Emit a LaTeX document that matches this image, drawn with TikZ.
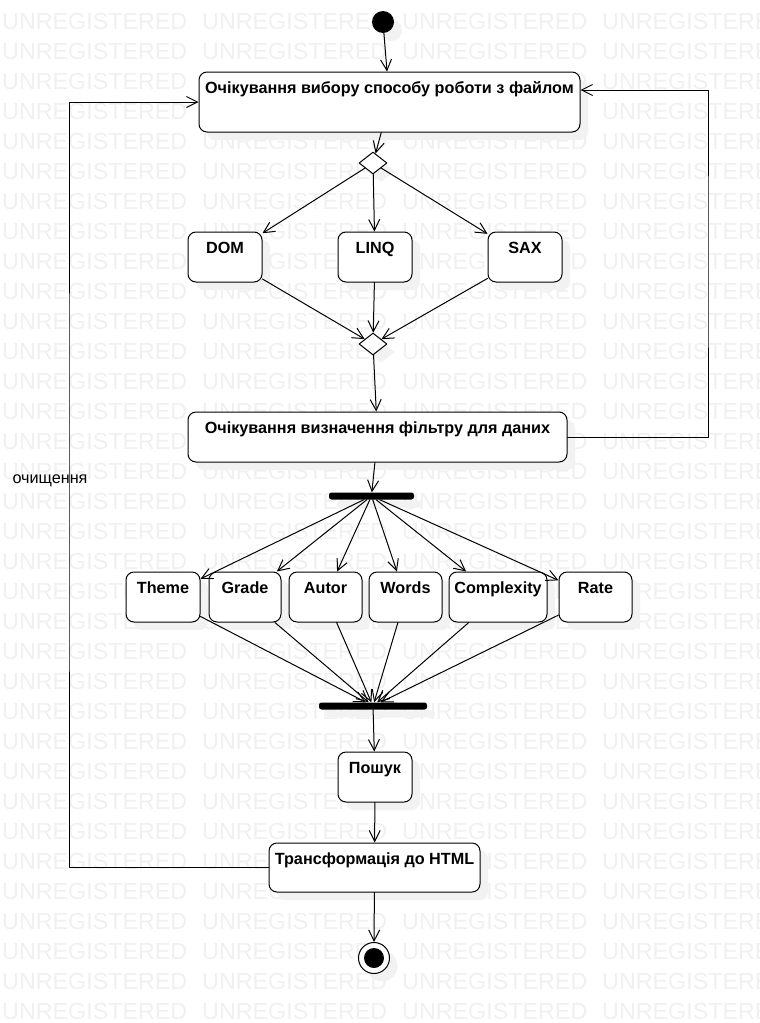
\documentclass[tikz,border=0pt]{standalone}
\usepackage{fontspec}
\setmainfont{Liberation Sans}
\usetikzlibrary{arrows.meta,shapes.geometric,shadows}

\tikzset{
  shade/.style={drop shadow={shadow xshift=8pt, shadow yshift=-8pt, fill=black!5, opacity=1}},
  actbox/.style={draw, fill=white, rounded corners=8pt, line width=1pt,
    inner xsep=3pt, inner ysep=0pt, text height=21.8pt, text depth=28.2pt,
    font=\fontsize{16.2}{19}\selectfont\bfseries, shade},
  branch/.style={diamond, draw, fill=white, line width=1pt,
    minimum width=28pt, minimum height=22pt, inner sep=0pt, shade},
  syncbar/.style={rectangle, fill=black, rounded corners=2.5pt,
    minimum width=#1, minimum height=7pt, inner sep=0pt, shade},
  startdot/.style={circle, fill=black, minimum size=22pt, inner sep=0pt, shade},
  enddot/.style={circle, draw, fill=white, line width=1pt, minimum size=31pt,
    inner sep=0pt, shade,
    path picture={\fill[black] (path picture bounding box.center) circle (10pt);}},
  wmark/.style={anchor=west, inner sep=0pt, text=black!6,
    font=\fontsize{23.3}{24}\selectfont},
  arr/.style={line width=1pt, -{Straight Barb[length=11pt,width=11pt]}}
}

\begin{document}
\begin{tikzpicture}[
    x=1pt, y=-1pt,
    line cap=round,
    line join=round,
    every node/.style={
      font=\fontsize{16.2}{19}\selectfont,
      inner sep=1pt
    }
]
\useasboundingbox (0,0) rectangle (760,1023);

% watermark
\begin{scope}
  \clip (0,0) rectangle (760,1023);
  \foreach \r in {0,...,33} {
    \foreach \c in {0,...,3} {
      \node[wmark] at (2+200*\c, 21+30*\r) {UNREGISTERED};
    }
  }
\end{scope}

% states
\node[startdot] (init) at (383,22) {};
\node[actbox, minimum width=381pt, text depth=38.2pt] (waitmode) at (389.5,102)
  {Очікування вибору способу роботи з файлом};
\node[branch] (choice) at (373,163) {};

\node[actbox, minimum width=74pt] (dom) at (225,257) {DOM};
\node[actbox, minimum width=74pt] (linq) at (375,257) {LINQ};
\node[actbox, minimum width=74pt] (sax) at (525,257) {SAX};

\node[branch] (merge) at (373,344) {};
\node[actbox, minimum width=379pt] (waitfilter) at (377.5,437)
  {Очікування визначення фільтру для даних};

\node[syncbar=85pt] (fork) at (371.5,496) {};

\foreach \n/\x/\w/\t in {theme/163/74/Theme, grade/245/72/Grade,
    autor/325.5/73/Autor, words/405.5/73/Words,
    complexity/498/98/Complexity, rate/595.5/73/Rate} {
  \node[actbox, minimum width=\w pt] (\n) at (\x,597) {\t};
}

\node[syncbar=108pt] (join) at (373,706) {};
\node[actbox, minimum width=74pt] (search) at (375,777) {Пошук};
\node[actbox, minimum width=211pt, text depth=27.2pt] (transform) at (374.5,867.5)
  {Трансформація до HTML};
\node[enddot] (final) at (374,958) {};

% transitions
\draw[arr] (init) -- (waitmode);
\draw[arr] (waitmode) -- (choice);
\foreach \n in {dom,linq,sax} {
  \draw[arr] (choice) -- (\n);
  \draw[arr] (\n) -- (merge);
}
\draw[arr] (merge) -- (waitfilter);
\draw[arr] (waitfilter) -- (fork);
\foreach \n in {theme,grade,autor,words,complexity,rate} {
  \draw[arr] (fork) -- (\n);
  \draw[arr] (\n) -- (join);
}
\draw[arr] (join) -- (search);
\draw[arr] (search) -- (transform);
\draw[arr] (transform) -- (final);

% loops back
\coordinate (loopl) at (69,480);
\coordinate (loopr) at (708,260);
\draw[arr] (transform.west) -| (loopl) |- (waitmode.west);
\node (clean) at (50,481) {очищення};
\draw[arr] (waitfilter.east) -| (loopr) |- ([yshift=12pt]waitmode.east);
\end{tikzpicture}
\end{document}
